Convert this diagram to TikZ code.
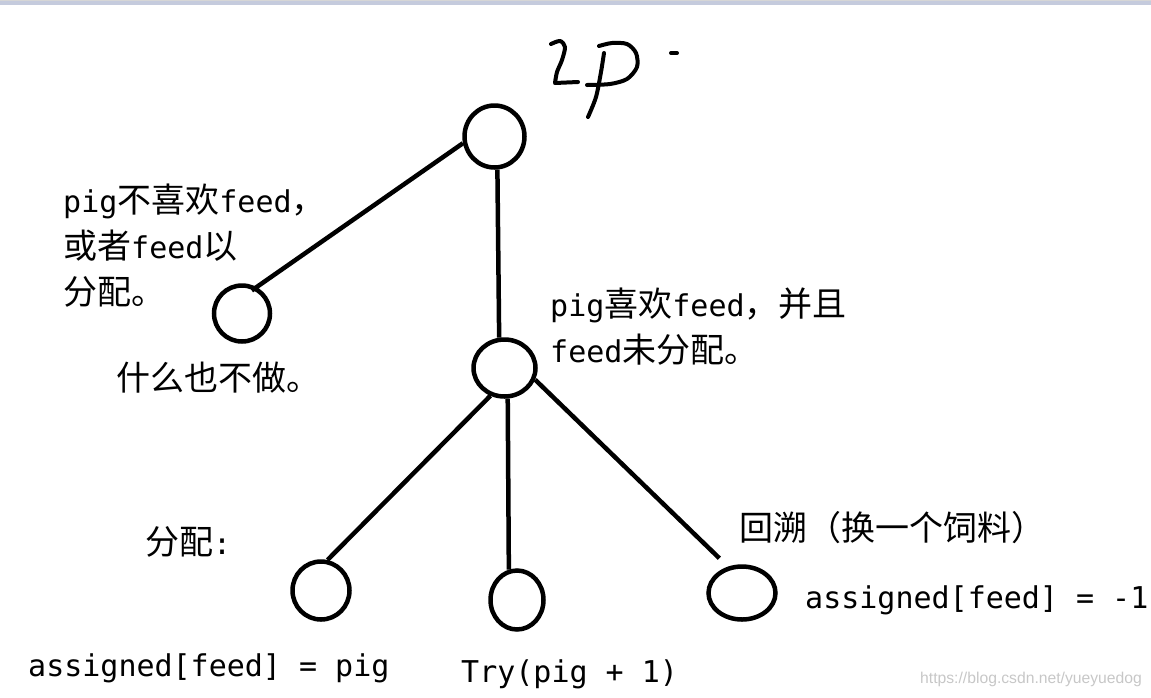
\documentclass[tikz,border=0pt]{standalone}
\usepackage{fontspec}
\usetikzlibrary{shapes.geometric}
\newfontfamily\zhfont{Noto Sans CJK SC}
\newfontfamily\latmono{DejaVu Sans Mono}
\newfontfamily\wmfont{Liberation Sans}
\newcommand\zh[1]{{\fontsize{34}{46}\selectfont\zhfont #1}}
\definecolor{barcol}{RGB}{197,203,221}
\definecolor{barline}{RGB}{214,214,214}
\begin{document}
\begin{tikzpicture}[x=1pt,y=-1pt,
  ring/.style={draw,ellipse,line width=4.5pt,inner sep=0pt},
  link/.style={line width=4.5pt},
  lbl/.style={inner sep=0pt,anchor=base west,font=\fontsize{30}{46}\selectfont\latmono,align=left},
  pen/.style={line width=4pt,line cap=round,line join=round}]
\useasboundingbox (0,0) rectangle (1151,697);
\fill[barcol] (0,0) rectangle (1151,5);
\fill[barline] (0,0) rectangle (1151,1);

% handwritten title
\draw[pen] plot[smooth] coordinates {(551,44) (560,41) (565,47) (562,60) (557,72) (555,83)} -- (578,82);
\draw[pen] plot[smooth] coordinates {(604,53) (601,72) (596,97) (588,117)};
\draw[pen] plot[smooth] coordinates {(599,46) (612,43) (627,44) (636,53) (637,67) (627,79) (610,84) (587,85)};
\draw[pen] (671,53) -- (677,53);

% tree nodes
\node[ring,minimum width=60pt,minimum height=62pt] (top) at (494.5,136.5) {};
\node[ring,minimum width=62pt,minimum height=57pt] (mid) at (504.5,368) {};
\node[ring,minimum width=56pt,minimum height=56pt] (left) at (242,313.5) {};
\node[ring,minimum width=57pt,minimum height=58pt] (bl) at (321,590.5) {};
\node[ring,minimum width=53pt,minimum height=59pt] (bm) at (517,600) {};
\node[ring,minimum width=67pt,minimum height=53pt] (br) at (742,593) {};

% connectors
\draw[link,shorten >=-6pt] (top.192) -- (left.61);
\draw[link] (top.-85) -- (mid.100);
\draw[link] (mid.243) -- (bl.78);
\draw[link] (mid.-84) -- (bm.105);
\draw[link,shorten >=12pt] (mid.-21) -- (br.118);

% labels
\node[lbl] (t1) at (63,304) {pig\zh{不喜欢}feed\zh{，}\\\zh{或者}feed\zh{以}\\\zh{分配。}};
\node[lbl] (t2) at (116,390) {\zh{什么也不做。}};
\node[lbl] (t3) at (550,362) {pig\zh{喜欢}feed\zh{，并且}\\feed\zh{未分配。}};
\node[lbl] (t4) at (145,554) {\zh{分配}:};
\node[lbl] (t5) at (739,540) {\zh{回溯（换一个饲料）}};
\node[lbl] (t6) at (805,608) {assigned[feed] = -1};
\node[lbl] (t7) at (28,676) {assigned[feed] = pig};
\node[lbl] (t8) at (461,682) {Try(pig + 1)};
\node[inner sep=0pt,anchor=base west,font=\fontsize{15.7}{16}\selectfont\wmfont,text=black!22] (wm) at (920,683) {https://blog.csdn.net/yueyuedog};
\end{tikzpicture}
\end{document}
